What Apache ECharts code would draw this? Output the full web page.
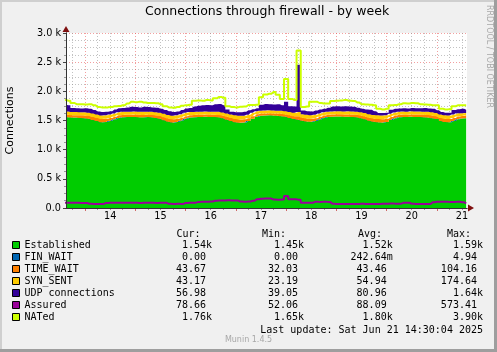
<!DOCTYPE html>
<html><head><meta charset="utf-8">
<script src="https://cdn.jsdelivr.net/npm/echarts@6/dist/echarts.min.js"></script>
<style>html,body{margin:0;padding:0;background:#F0F0F0}#c{width:497px;height:352px}</style>
</head><body><div id="c"></div><script>
// ---- data (2-hour samples, hours since Jun 13 00:00) ----
const hours = [];
for (let i = 0; i < 97; i++) hours.push(14 + 2 * i);

const seriesNames = ['Established','FIN_WAIT','TIME_WAIT','SYN_SENT','UDP connections','Assured','NATed'];
const seriesColors = ['#00CC00','#0066B3','#FF8000','#FFCC00','#330099','#990099','#CCFF00'];

const established = [1560,1555,1550,1550,1545,1540,1530,1510,1490,1470,
 1475,1495,1520,1545,1555,1560,1560,1560,1555,1555,
 1560,1555,1545,1530,1505,1480,1465,1475,1500,1530,
 1550,1555,1560,1560,1565,1560,1560,1555,1540,1515,
 1490,1470,1460,1465,1490,1530,1565,1580,1585,1590,
 1585,1580,1575,1560,1545,1525,1510,1495,1485,1480,
 1490,1520,1545,1560,1565,1570,1570,1565,1565,1560,
 1555,1540,1520,1495,1480,1470,1465,1475,1510,1540,
 1555,1560,1560,1565,1560,1560,1555,1550,1540,1525,
 1490,1475,1470,1490,1520,1535,1540];
const finWait = [0,0,0,0,0,0,0,0,0,0, 0,0,0,0,0,0,0,0,0,0, 0,0,0,0,0,0,0,0,0,0,
 0,0,0,0,0,0,0,0,0,0, 0,0,0,0,0,0,0,0,0,0, 0,0,0,3,0,0,5,0,0,0,
 0,0,0,0,0,0,0,0,0,0, 0,0,0,0,0,0,0,0,0,0, 0,0,0,0,0,0,0,0,0,0, 0,0,0,0,0,0,0];
const timeWait = [44,42,40,41,43,45,47,50,52,54,
 53,50,46,43,41,40,40,41,42,41,
 40,41,43,46,50,53,55,53,49,45,
 42,40,39,39,38,39,40,41,44,49,
 53,56,57,55,50,45,41,38,37,36,
 37,38,40,42,45,48,60,52,50,49,
 48,45,42,40,39,38,38,39,40,41,
 43,46,49,52,54,56,57,55,49,44,
 42,41,40,40,41,41,42,43,45,48,
 52,55,55,52,47,44,44];
const synSent = [58,57,55,54,55,56,58,60,62,62,
 61,58,56,54,53,52,52,53,54,53,
 52,53,55,57,60,62,63,62,59,56,
 54,52,51,51,50,51,52,53,55,58,
 61,63,64,63,60,56,53,51,50,49,
 50,51,52,54,56,58,70,62,62,61,
 60,57,54,52,51,50,50,51,52,53,
 54,56,58,60,62,63,64,62,58,55,
 54,53,52,52,53,53,54,55,56,57,
 60,62,62,60,57,45,43];
const udp = [108,106,70,65,62,69,65,60,51,59,
 61,57,68,68,66,73,83,76,74,86,
 78,76,77,67,65,65,62,65,72,74,
 69,93,105,110,112,110,128,136,121,68,
 46,51,59,67,75,64,51,101,113,105,
 103,111,93,164,99,109,810,61,63,65,
 72,68,59,68,85,87,82,90,83,81,
 68,58,63,78,64,41,44,43,68,61,
 54,56,53,58,56,56,64,57,59,45,
 43,43,48,78,71,76,57];
const assured = [88,90,90,88,85,85,72,68,70,70,
 85,88,90,90,88,88,90,88,85,88,
 90,88,85,88,88,72,70,72,70,85,
 88,92,105,108,108,110,125,128,130,132,
 128,130,110,108,110,125,150,160,165,162,
 145,140,145,206,148,148,140,92,90,92,
 108,105,108,105,75,70,70,70,70,70,
 70,72,70,70,70,70,72,74,76,75,
 74,88,90,72,70,70,68,70,100,108,
 108,108,105,105,108,100,79];
const nated = [1850,1840,1800,1780,1780,1775,1780,1760,1730,1725,
 1725,1730,1745,1750,1760,1790,1820,1815,1820,1810,
 1800,1800,1795,1780,1745,1725,1720,1730,1755,1760,
 1770,1840,1845,1840,1850,1845,1880,1905,1890,1745,
 1730,1725,1735,1740,1765,1765,1770,1900,1945,1960,
 1990,1940,1870,2210,1870,1850,2700,1730,1740,1820,
 1820,1800,1790,1790,1835,1840,1845,1850,1840,1835,
 1810,1780,1775,1770,1760,1700,1690,1700,1760,1765,
 1780,1795,1790,1800,1795,1780,1775,1770,1760,1760,
 1700,1690,1695,1745,1760,1760,1760];

// axis ticks / labels
const yTickLabels = ['0.0','0.5 k','1.0 k','1.5 k','2.0 k','2.5 k','3.0 k'];
const dayLabels = ['14','15','16','17','18','19','20','21'];
const noonHours = [36,60,84,108,132,156,180,204];
const midnightHours = [24,48,72,96,120,144,168,192];
const sixHourMinor = [18,30,36,42,54,60,66,78,84,90,102,108,114,126,132,138,150,156,162,174,180,186,198,204];

// legend statistics
const curVals = ['1.54k','0.00','43.67','43.17','56.98','78.66','1.76k'];
const minVals = ['1.45k','0.00','32.03','23.19','39.05','52.06','1.65k'];
const avgVals = ['1.52k','242.64m','43.46','54.94','80.96','88.09','1.80k'];
const maxVals = ['1.59k','4.94','104.16','174.64','1.64k','573.41','3.90k'];
const headers = ['Cur:','Min:','Avg:','Max:'];
const lastUpdate = 'Last update: Sat Jun 21 14:30:04 2025';

// ---- chart ----
const T0 = Date.UTC(2025, 5, 13, 0, 0, 0);
const H = 3600 * 1000;
const toMs = h => T0 + h * H;
const H_MIN = 14.9, H_MAX = 206.4;
const mk = vals => hours.map((h, i) => [toMs(h), vals[i]]);
const mono = '"DejaVu Sans Mono", monospace';
const sans = '"DejaVu Sans", sans-serif';
const gridMinor = 'rgba(143,143,143,0.55)';
const gridMajor = 'rgba(232,80,80,0.55)';

const cx = {type:'value', min:H_MIN, max:H_MAX, position:'bottom', offset:0};
const cy = {type:'value', min:0, max:3000, interval:500, position:'left', offset:0};

const areaSeries = (idx, vals) => ({
  name: seriesNames[idx], type:'line', stack:'conn', step:'middle', data: mk(vals),
  xAxisIndex:0, yAxisIndex:0,
  showSymbol:false, symbol:'none', lineStyle:{width:0}, itemStyle:{color:seriesColors[idx]},
  areaStyle:{color:seriesColors[idx], opacity:1}, emphasis:{disabled:true}
});
const lineSeries = (idx, vals) => ({
  name: seriesNames[idx], type:'line', step:'middle', data: mk(vals),
  xAxisIndex:0, yAxisIndex:0,
  showSymbol:false, symbol:'none', lineStyle:{width:2, color:seriesColors[idx]},
  itemStyle:{color:seriesColors[idx]}, emphasis:{disabled:true}
});

const colRight = [212, 304, 392.7, 483];
const headLeft = [176.5, 262, 358, 447];
const cols = [curVals, minVals, avgVals, maxVals];
const pad = v => /[km]$/.test(v) ? v : v + ' ';

const graphic = [
  {type:'rect', shape:{x:0,y:0,width:497,height:2}, style:{fill:'#CFCFCF'}, silent:true},
  {type:'rect', shape:{x:0,y:0,width:2,height:352}, style:{fill:'#CFCFCF'}, silent:true},
  {type:'rect', shape:{x:0,y:349,width:497,height:3}, style:{fill:'#9E9E9E'}, silent:true},
  {type:'rect', shape:{x:494,y:0,width:3,height:352}, style:{fill:'#9E9E9E'}, silent:true},
  {type:'text', x:489, y:56.5, rotation:-Math.PI/2, silent:true,
   style:{text:'RRDTOOL / TOBI OETIKER', font:'8px ' + sans, fill:'#A8A8A8', align:'center', verticalAlign:'middle'}},
  {type:'text', x:248.5, y:340, silent:true,
   style:{text:'Munin 1.4.5', font:'8px ' + sans, fill:'#A8A8A8', align:'center', verticalAlign:'middle'}},
  {type:'text', x:483, y:330, silent:true,
   style:{text:lastUpdate, font:'10px ' + mono, fill:'#000', align:'right', verticalAlign:'middle'}}
];
headers.forEach((h, c) => graphic.push({type:'text', x:headLeft[c], y:234.5, silent:true,
  style:{text:h, font:'10px ' + mono, fill:'#000', align:'left', verticalAlign:'middle'}}));
cols.forEach((arr, c) => arr.forEach((v, r) => graphic.push({type:'text', x:colRight[c], y:245 + 12*r, silent:true,
  style:{text:pad(v), font:'10px ' + mono, fill:'#000', align:'right', verticalAlign:'middle'}})));

const option = {
  animation:false,
  backgroundColor:'#F0F0F0',
  title:{text:'Connections through firewall - by week', left:145, top:5, padding:0,
    textStyle:{fontSize:12.5, fontWeight:'normal', fontFamily:sans, color:'#000'}},
  grid:{left:66, right:30, top:33, bottom:144, show:true, backgroundColor:'#FFFFFF', borderWidth:0,
    containLabel:false, outerBoundsMode:'none'},
  legend:{orient:'vertical', left:12, top:239, itemWidth:7, itemHeight:7, itemGap:0, icon:'rect', selectedMode:false, padding:0,
    itemStyle:{borderColor:'#000', borderWidth:1},
    textStyle:{fontFamily:mono, fontSize:10, color:'#000', lineHeight:12},
    data: seriesNames},
  xAxis:[
    // time axis that carries the data (hidden)
    {type:'time', min:toMs(H_MIN), max:toMs(H_MAX), position:'bottom', offset:0,
      axisLine:{show:false}, axisTick:{show:false}, axisLabel:{show:false}, splitLine:{show:false}},
    {...cx, axisLine:{show:false}, axisLabel:{show:false},
      axisTick:{show:true, customValues:sixHourMinor, length:2, lineStyle:{color:'#999'}},
      splitLine:{show:true, lineStyle:{color:gridMinor, type:[1,2], width:1}}},
    {...cx, axisLine:{show:false},
      axisTick:{show:true, customValues:midnightHours, length:3, lineStyle:{color:'rgba(200,70,70,0.8)'}},
      axisLabel:{show:true, customValues:noonHours, formatter: v => dayLabels[noonHours.indexOf(+v)],
        fontSize:9.7, fontFamily:sans, color:'#000', margin:3},
      splitLine:{show:true, lineStyle:{color:gridMajor, type:[1,2], width:1}}},
    {...cx, z:5, axisLine:{show:true, symbol:['none','triangle'], symbolSize:[7,6], symbolOffset:[0,4], lineStyle:{color:'#7F1010', width:1}},
      axisTick:{show:false}, axisLabel:{show:false}, splitLine:{show:false}},
    {...cx, z:6, axisLine:{show:true, lineStyle:{color:'#333', width:1}},
      axisTick:{show:false}, axisLabel:{show:false}, splitLine:{show:false}}
  ],
  yAxis:[
    {...cy, axisLine:{show:false},
      axisTick:{show:true, length:3, lineStyle:{color:'#444'}},
      minorTick:{show:true, splitNumber:4, length:2, lineStyle:{color:'#999'}},
      axisLabel:{formatter: v => yTickLabels[Math.round(v/500)], fontSize:9.7, fontFamily:sans, color:'#000', margin:5},
      splitLine:{show:true, lineStyle:{color:gridMajor, type:[1,2], width:1}},
      minorSplitLine:{show:true, lineStyle:{color:gridMinor, type:[1,2], width:1}},
      name:'Connections', nameLocation:'middle', nameGap:50, nameRotate:90,
      nameTextStyle:{fontSize:11, fontFamily:sans, color:'#000'}},
    {...cy, z:5, axisLine:{show:true, symbol:['none','triangle'], symbolSize:[7,6], symbolOffset:[0,4], lineStyle:{color:'#7F1010', width:1}},
      axisTick:{show:false}, axisLabel:{show:false}, splitLine:{show:false}},
    {...cy, z:6, axisLine:{show:true, lineStyle:{color:'#333', width:1}},
      axisTick:{show:false}, axisLabel:{show:false}, splitLine:{show:false}}
  ],
  series:[
    areaSeries(0, established),
    areaSeries(1, finWait),
    areaSeries(2, timeWait),
    areaSeries(3, synSent),
    areaSeries(4, udp),
    lineSeries(5, assured),
    lineSeries(6, nated)
  ],
  graphic: graphic
};
const chart = echarts.init(document.getElementById('c'), null, {renderer:'canvas'});
chart.setOption(option);
</script></body></html>
